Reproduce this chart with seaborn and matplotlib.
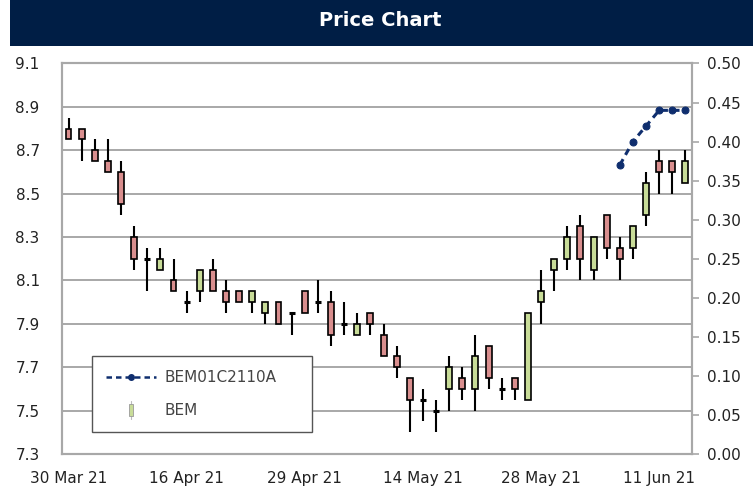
import matplotlib
matplotlib.use("Agg")
import matplotlib.pyplot as plt
import seaborn as sns
import pandas as pd
from matplotlib.lines import Line2D
from matplotlib.patches import Rectangle
from matplotlib.legend_handler import HandlerBase

# --- data ---
dates = ["2021-03-30", "2021-03-31", "2021-04-01", "2021-04-02", "2021-04-05", "2021-04-07",
         "2021-04-08", "2021-04-09", "2021-04-12", "2021-04-16", "2021-04-19", "2021-04-20",
         "2021-04-21", "2021-04-22", "2021-04-23", "2021-04-26", "2021-04-27", "2021-04-28",
         "2021-04-29", "2021-04-30", "2021-05-05", "2021-05-06", "2021-05-07", "2021-05-10",
         "2021-05-11", "2021-05-12", "2021-05-13", "2021-05-14", "2021-05-17", "2021-05-18",
         "2021-05-19", "2021-05-20", "2021-05-21", "2021-05-24", "2021-05-25", "2021-05-27",
         "2021-05-28", "2021-05-31", "2021-06-01", "2021-06-02", "2021-06-04", "2021-06-07",
         "2021-06-08", "2021-06-09", "2021-06-10", "2021-06-11", "2021-06-14", "2021-06-15"]

bem_open = [8.80, 8.80, 8.70, 8.65, 8.60, 8.30, 8.20, 8.15, 8.10, 8.00, 8.05, 8.15,
            8.05, 8.05, 8.00, 7.95, 8.00, 7.95, 8.05, 8.00, 8.00, 7.90, 7.85, 7.95,
            7.85, 7.75, 7.65, 7.55, 7.50, 7.60, 7.65, 7.60, 7.80, 7.60, 7.65, 7.55,
            8.00, 8.15, 8.20, 8.35, 8.15, 8.40, 8.25, 8.25, 8.40, 8.65, 8.65, 8.55]
bem_high = [8.85, 8.80, 8.75, 8.75, 8.65, 8.35, 8.25, 8.25, 8.20, 8.05, 8.15, 8.20,
            8.10, 8.05, 8.05, 8.00, 8.00, 7.95, 8.05, 8.10, 8.05, 8.00, 7.95, 7.95,
            7.90, 7.80, 7.65, 7.60, 7.55, 7.75, 7.70, 7.85, 7.80, 7.65, 7.65, 7.95,
            8.15, 8.20, 8.35, 8.40, 8.30, 8.40, 8.30, 8.35, 8.60, 8.70, 8.65, 8.70]
bem_low = [8.75, 8.65, 8.65, 8.60, 8.40, 8.15, 8.05, 8.15, 8.05, 7.95, 8.00, 8.05,
           7.95, 8.00, 7.95, 7.90, 7.90, 7.85, 7.95, 7.95, 7.80, 7.85, 7.85, 7.85,
           7.75, 7.65, 7.40, 7.45, 7.40, 7.50, 7.55, 7.50, 7.60, 7.55, 7.55, 7.55,
           7.90, 8.05, 8.15, 8.10, 8.10, 8.20, 8.10, 8.20, 8.35, 8.50, 8.50, 8.55]
bem_close = [8.75, 8.75, 8.65, 8.60, 8.45, 8.20, 8.20, 8.20, 8.05, 8.00, 8.15, 8.05,
             8.00, 8.00, 8.05, 8.00, 7.90, 7.95, 7.95, 8.00, 7.85, 7.90, 7.90, 7.90,
             7.75, 7.70, 7.55, 7.55, 7.50, 7.70, 7.60, 7.75, 7.65, 7.60, 7.60, 7.95,
             8.05, 8.20, 8.30, 8.20, 8.30, 8.25, 8.20, 8.35, 8.55, 8.60, 8.60, 8.65]

dw_dates = ["2021-06-08", "2021-06-09", "2021-06-10", "2021-06-11", "2021-06-14", "2021-06-15"]
dw_price = [0.37, 0.40, 0.42, 0.44, 0.44, 0.44]

price_ticks = [7.3, 7.5, 7.7, 7.9, 8.1, 8.3, 8.5, 8.7, 8.9, 9.1]
dw_ticks = [0.00, 0.05, 0.10, 0.15, 0.20, 0.25, 0.30, 0.35, 0.40, 0.45, 0.50]

UP = "#c8dc98"
DOWN = "#d98e8e"
NAVY = "#0f2e6e"
BAR = "#001e45"
GRID = "#a8a8a8"
FONT = ["Liberation Sans Narrow", "DejaVu Sans"]


class CandleHandler(HandlerBase):
    def create_artists(self, legend, orig_handle, xdescent, ydescent,
                       width, height, fontsize, trans):
        cx = width / 2 - xdescent
        wick = Line2D([cx, cx], [-ydescent - height * 0.35, -ydescent + height * 1.35],
                      color="#bbbbbb", lw=0.8, transform=trans)
        body = Rectangle((cx - 1.6, -ydescent - height * 0.05), 3.2, height * 1.1,
                         facecolor=UP, edgecolor="#999999", lw=0.6, transform=trans)
        return [wick, body]


def main():
    sns.set_style("white")
    plt.rcParams["font.family"] = FONT

    df = pd.DataFrame({"date": pd.to_datetime(dates), "open": bem_open, "high": bem_high,
                       "low": bem_low, "close": bem_close})
    df["pos"] = range(len(df))
    pos_map = dict(zip(df["date"], df["pos"]))
    dw = pd.DataFrame({"date": pd.to_datetime(dw_dates), "price": dw_price})
    dw["pos"] = dw["date"].map(pos_map)

    fig = plt.figure(figsize=(7.53, 4.94), dpi=100)
    ax = fig.add_axes([0.0823, 0.081, 0.8367, 0.7905])

    # title bar
    fig.patches.append(Rectangle((10 / 753, 1 - 46 / 494), 1, 46 / 494,
                                 transform=fig.transFigure, facecolor=BAR,
                                 edgecolor="none", zorder=0))
    fig.text(0.505, 1 - 21 / 494, "Price Chart", color="white", fontsize=14,
             fontweight="bold", ha="center", va="center")

    # candles
    w = 0.45
    ax.vlines(df["pos"], df["low"], df["high"], color="black", lw=1.5, zorder=3)
    for _, r in df.iterrows():
        if abs(r["close"] - r["open"]) < 1e-9:
            ax.hlines(r["open"], r["pos"] - w / 2, r["pos"] + w / 2, color="black",
                      lw=2.2, zorder=4)
        else:
            col = UP if r["close"] > r["open"] else DOWN
            lo = min(r["open"], r["close"])
            ax.bar(r["pos"], abs(r["close"] - r["open"]), bottom=lo, width=w,
                   color=col, edgecolor="black", linewidth=1.2, zorder=4)

    ax.set_xlim(-0.5, len(df) - 0.5)
    ax.set_ylim(7.3, 9.1)
    ax.set_yticks(price_ticks)
    ax.set_yticklabels([f"{t:.1f}" for t in price_ticks])
    tick_pos = df["pos"].iloc[::9]
    ax.set_xticks(tick_pos)
    ax.set_xticklabels([d.strftime("%d %b %y") for d in df["date"].iloc[::9]])
    ax.yaxis.grid(True, color=GRID, lw=1.4)
    ax.set_axisbelow(True)
    ax.tick_params(axis="y", length=0, pad=16, labelsize=11, labelcolor="#222222")
    ax.tick_params(axis="x", length=0, pad=12, labelsize=11, labelcolor="#222222")
    for s in ax.spines.values():
        s.set_color(GRID)
        s.set_linewidth(1.5)

    # derivative warrant on the right axis
    ax2 = ax.twinx()
    sns.lineplot(data=dw, x="pos", y="price", ax=ax2, color=NAVY, linewidth=2.2,
                 dashes=False, marker="o", markersize=5, markeredgecolor=NAVY,
                 legend=False, zorder=5)
    ax2.lines[0].set_dashes((2.2, 1.6))
    ax2.set_ylim(0, 0.5)
    ax2.set_yticks(dw_ticks)
    ax2.set_yticklabels([f"{t:.2f}" for t in dw_ticks])
    ax2.tick_params(axis="y", direction="out", length=5, width=1.2, color=GRID,
                    pad=6, labelsize=11, labelcolor="#222222")
    ax2.set_xlabel("")
    ax2.set_ylabel("")
    ax.set_xlabel("")
    ax.set_ylabel("")
    for s in ax2.spines.values():
        s.set_color(GRID)
        s.set_linewidth(1.5)

    h_dw = Line2D([], [], color=NAVY, lw=1.8, dashes=(2.2, 1.6), marker="o", markersize=4)
    h_bem = Rectangle((0, 0), 1, 1)
    leg = ax2.legend([h_dw, h_bem], ["BEM01C2110A", "BEM"],
                     handler_map={Rectangle: CandleHandler()},
                     loc="lower left", bbox_to_anchor=(0.048, 0.056, 0.349, 0.2),
                     mode="expand", fancybox=False, framealpha=1, edgecolor="#555555",
                     fontsize=11, labelspacing=1.2, borderpad=0.9, handlelength=3.3,
                     handletextpad=0.5, borderaxespad=0, numpoints=1)
    leg.get_frame().set_linewidth(1.0)
    for t in leg.get_texts():
        t.set_color("#444444")

    fig.savefig("out.png", dpi=100)


if __name__ == "__main__":
    main()
